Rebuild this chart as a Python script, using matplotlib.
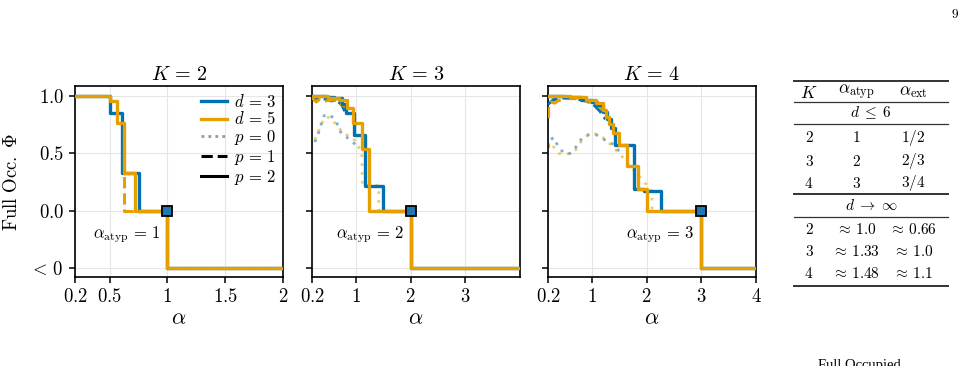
import numpy as np
import matplotlib.pyplot as plt
from matplotlib.lines import Line2D

plt.rcParams['mathtext.fontset'] = 'cm'
plt.rcParams['font.family'] = 'serif'
plt.rcParams['font.serif'] = ['cmr10', 'DejaVu Serif']
plt.rcParams['axes.unicode_minus'] = False

BLUE = '#0072B2'
ORANGE = '#E69F00'

# panels
K_values = [2, 3, 4]
alpha_atyp = [1, 2, 3]
x_limits = [(0.2, 2), (0.2, 4), (0.2, 4)]
x_ticks = [[0.2, 0.5, 1, 1.5, 2], [0.2, 1, 2, 3], [0.2, 1, 2, 3, 4]]
x_ticklabels = [['$0.2$', '$0.5$', '$1$', '$1.5$', '$2$'],
                ['$0.2$', '$1$', '$2$', r'$\mathbf{3}$'],
                ['$0.2$', '$1$', '$2$', '$3$', '$4$']]
y_ticks = [1.0, 0.5, 0.0, -0.5]
y_ticklabels = ['$1.0$', '$0.5$', '$0.0$', r'$<\,0$']   # -0.5 stands for "< 0"

# ---- K = 2 ----
k2_d3_p2_x = [0.2, 0.5, 0.607, 0.754, 1.0, 2.0]
k2_d3_p2_y = [1.0, 0.85, 0.33, 0.0, -0.5, -0.5]
k2_d5_p2_x = [0.2, 0.5, 0.563, 0.627, 0.719, 1.0, 2.0]
k2_d5_p2_y = [1.0, 0.96, 0.766, 0.33, 0.0, -0.5, -0.5]
k2_d5_p1_x = [0.2, 0.5, 0.563, 0.627, 1.0, 2.0]
k2_d5_p1_y = [1.0, 0.96, 0.766, 0.0, -0.5, -0.5]

# ---- K = 3 ----
k3_d3_p2_x = [0.2, 0.45, 0.6, 0.75, 0.82, 0.96, 1.17, 1.5, 2.0, 4.0]
k3_d3_p2_y = [1.0, 0.995, 0.985, 0.93, 0.85, 0.66, 0.22, 0.0, -0.5, -0.5]
k3_d5_p2_x = [0.2, 0.5, 0.7, 0.84, 0.95, 1.11, 1.25, 2.0, 4.0]
k3_d5_p2_y = [1.0, 0.985, 0.965, 0.9, 0.77, 0.54, 0.0, -0.5, -0.5]
k3_d3_p1_x = [0.2, 0.26, 0.3, 0.4, 0.55, 0.65, 0.75, 0.82]
k3_d3_p1_y = [1.0, 0.96, 0.99, 0.98, 0.96, 0.97, 0.92, 0.85]
k3_d5_p1_x = [0.2, 0.28, 0.32, 0.45, 0.6, 0.7, 0.84]
k3_d5_p1_y = [0.99, 0.95, 0.97, 0.96, 0.97, 0.94, 0.9]
k3_d3_p0_x = [0.25, 0.3, 0.35, 0.42, 0.53, 0.65, 0.74, 0.84, 0.99, 1.0]
k3_d3_p0_y = [0.6, 0.65, 0.73, 0.83, 0.84, 0.77, 0.67, 0.64, 0.58, 0.54]
k3_d5_p0_x = [0.25, 0.3, 0.36, 0.45, 0.55, 0.66, 0.77, 0.88, 0.96, 1.11, 1.12, 1.42, 1.42]
k3_d5_p0_y = [0.62, 0.67, 0.75, 0.82, 0.81, 0.74, 0.68, 0.65, 0.63, 0.51, 0.22, 0.22, 0.0]

# ---- K = 4 ----
k4_d3_p2_x = [0.2, 0.5, 0.8, 1.0, 1.1, 1.2, 1.28, 1.35, 1.42, 1.78, 1.96, 2.26, 3.0, 4.0]
k4_d3_p2_y = [1.0, 0.99, 0.97, 0.95, 0.92, 0.86, 0.8, 0.72, 0.57, 0.19, 0.17, 0.0, -0.5, -0.5]
k4_d5_p2_x = [0.2, 0.6, 0.9, 1.08, 1.2, 1.26, 1.32, 1.38, 1.49, 1.64, 1.85, 2.0, 3.0, 4.0]
k4_d5_p2_y = [1.0, 0.99, 0.97, 0.94, 0.88, 0.82, 0.76, 0.68, 0.57, 0.39, 0.19, 0.0, -0.5, -0.5]
k4_d3_p1_x = [0.2, 0.25, 0.3, 0.4, 0.5, 0.7, 0.9, 1.05, 1.15, 1.25]
k4_d3_p1_y = [0.93, 0.95, 0.97, 0.98, 0.985, 0.98, 0.96, 0.92, 0.87, 0.8]
k4_d5_p1_x = [0.21, 0.21, 0.26, 0.32, 0.38, 0.5, 0.7, 0.9, 1.08, 1.2]
k4_d5_p1_y = [0.81, 0.92, 0.95, 0.94, 0.96, 0.98, 0.98, 0.96, 0.93, 0.88]
k4_d3_p0_x = [0.2, 0.25, 0.3, 0.4, 0.5, 0.6, 0.7, 0.8, 0.9, 1.0, 1.1, 1.2, 1.3, 1.4, 1.5, 1.57]
k4_d3_p0_y = [0.55, 0.62, 0.64, 0.55, 0.5, 0.5, 0.55, 0.62, 0.66, 0.67, 0.66, 0.63, 0.6, 0.58, 0.52, 0.48]
k4_d5_p0_x = [0.2, 0.25, 0.3, 0.4, 0.5, 0.6, 0.7, 0.8, 0.9, 1.0, 1.1, 1.2, 1.3, 1.4, 1.54, 2.1, 2.1]
k4_d5_p0_y = [0.57, 0.6, 0.56, 0.5, 0.49, 0.5, 0.53, 0.6, 0.65, 0.67, 0.67, 0.64, 0.6, 0.55, 0.48, 0.17, 0.0]

steps_p2 = [[(k2_d3_p2_x, k2_d3_p2_y), (k2_d5_p2_x, k2_d5_p2_y)],
            [(k3_d3_p2_x, k3_d3_p2_y), (k3_d5_p2_x, k3_d5_p2_y)],
            [(k4_d3_p2_x, k4_d3_p2_y), (k4_d5_p2_x, k4_d5_p2_y)]]
lines_p1 = [[None, (k2_d5_p1_x, k2_d5_p1_y)],
            [(k3_d3_p1_x, k3_d3_p1_y), (k3_d5_p1_x, k3_d5_p1_y)],
            [(k4_d3_p1_x, k4_d3_p1_y), (k4_d5_p1_x, k4_d5_p1_y)]]
lines_p0 = [[None, None],
            [(k3_d3_p0_x, k3_d3_p0_y), (k3_d5_p0_x, k3_d5_p0_y)],
            [(k4_d3_p0_x, k4_d3_p0_y), (k4_d5_p0_x, k4_d5_p0_y)]]
colors = [BLUE, ORANGE]

# table on the right
table_header = ['$K$', r'$\alpha_{\rm atyp}$', r'$\alpha_{\rm ext}$']
table_small_d = [['$2$', '$1$', '$1/2$'], ['$3$', '$2$', '$2/3$'], ['$4$', '$3$', '$3/4$']]
table_large_d = [['$2$', r'$\approx\, 1.0$', r'$\approx\, 0.66$'],
                 ['$3$', r'$\approx\, 1.33$', r'$\approx\, 1.0$'],
                 ['$4$', r'$\approx\, 1.48$', r'$\approx\, 1.1$']]

W, H = 971, 366
fig = plt.figure(figsize=(W / 100, H / 100), dpi=100)
lefts = [75, 312, 548]
axes = [fig.add_axes([l / W, 1 - 277 / H, 208 / W, 191 / H]) for l in lefts]

for i, ax in enumerate(axes):
    for j in range(2):
        if lines_p0[i][j] is not None:
            x, y = lines_p0[i][j]
            ax.plot(x, y, ls=(0, (1, 2.2)), color=colors[j], lw=2, alpha=0.55, zorder=2)
    for j in range(2):
        if lines_p1[i][j] is not None:
            x, y = lines_p1[i][j]
            if i == 0:
                ax.step(x, y, where='post', ls='--', color=colors[j], lw=2.2, zorder=3)
            else:
                ax.plot(x, y, ls='--', color=colors[j], lw=2.2, zorder=3)
    for j in range(2):
        x, y = steps_p2[i][j]
        ax.step(x, y, where='post', color=colors[j], lw=2.4, zorder=4 + j)
    a = alpha_atyp[i]
    ax.plot([a], [0], marker='s', ms=7.5, mfc='#1f77b4', mec='black', mew=1.3, zorder=10, clip_on=False)
    ax.annotate(r'$\alpha_{\rm atyp}\,=\,%d$' % a, xy=(a, 0), xytext=(-5, -17),
                textcoords='offset points', ha='right', va='center', fontsize=12)
    ax.set_xlim(*x_limits[i])
    ax.set_ylim(-0.58, 1.09)
    ax.set_xticks(x_ticks[i])
    ax.set_xticklabels(x_ticklabels[i], fontsize=13.5)
    ax.set_yticks(y_ticks)
    if i == 0:
        ax.set_yticklabels(y_ticklabels, fontsize=13.5)
        ax.set_ylabel(r'$\mathrm{Full\ Occ.}\ \Phi$', fontsize=13.5, labelpad=6)
    else:
        ax.set_yticklabels([])
    ax.set_xlabel(r'$\alpha$', fontsize=16, labelpad=2)
    ax.set_title(r'$K\,=\,%d$' % K_values[i], fontsize=14.5, pad=4)
    ax.grid(True, color='#e6e6e6', lw=0.8)
    ax.set_axisbelow(True)
    for s in ax.spines.values():
        s.set_linewidth(1.2)
    ax.tick_params(width=1.1, length=4, pad=4)

handles = [Line2D([], [], color=BLUE, lw=2.4), Line2D([], [], color=ORANGE, lw=2.4),
           Line2D([], [], color='#999999', lw=2, ls=(0, (1, 1.5))), Line2D([], [], color='black', lw=2.2, ls='--'),
           Line2D([], [], color='black', lw=2.2)]
labels = [r'$d\,=\,3$', r'$d\,=\,5$', r'$p\,=\,0$', r'$p\,=\,1$', r'$p\,=\,2$']
axes[0].legend(handles, labels, loc='upper right', frameon=False, fontsize=12,
               handlelength=1.6, handletextpad=0.4, labelspacing=0.05, borderaxespad=0.2,
               borderpad=0.2)

# table
tax = fig.add_axes([794 / W, 1 - 287 / H, 154 / W, 207 / H])
tax.set_xlim(0, 154)
tax.set_ylim(207, 0)
tax.axis('off')
col_x = [15, 62, 119]
for cx, txt in zip(col_x, table_header):
    tax.text(cx, 12.5, txt, ha='center', va='center', fontsize=12.5)
tax.text(77, 32.5, r'$d\;\leq\;6$', ha='center', va='center', fontsize=11)
for ry, row in zip([58, 81, 103], table_small_d):
    for cx, txt in zip(col_x, row):
        tax.text(cx, ry, txt, ha='center', va='center', fontsize=11)
tax.text(77, 126, r'$d\;\rightarrow\;\infty$', ha='center', va='center', fontsize=11)
for ry, row in zip([150, 172, 193], table_large_d):
    for cx, txt in zip(col_x, row):
        tax.text(cx, ry, txt, ha='center', va='center', fontsize=11)
for ry, lw in [(0.5, 1.4), (21.5, 0.9), (44, 0.9), (114, 1.4), (136.5, 0.9), (206, 1.4)]:
    tax.plot([0, 154], [ry, ry], color='#333333', lw=lw, clip_on=False)

fig.text(955 / W, 1 - 15 / H, '9', ha='center', va='center', fontsize=9.5)
fig.text(859 / W, 1 - 359 / H, 'Full Occupied', ha='center', va='top', fontsize=10.5,
         family='Liberation Serif')

fig.savefig('out.png', dpi=100)
